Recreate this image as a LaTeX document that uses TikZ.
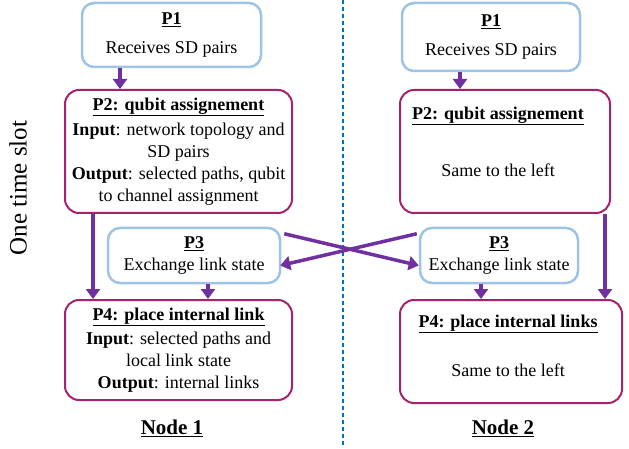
\documentclass[tikz,border=0pt]{standalone}
\usepackage{fontspec}
\setmainfont{Liberation Serif}
\usetikzlibrary{arrows.meta,calc}
\definecolor{boxblue}{HTML}{9DC3E6}
\definecolor{boxmag}{HTML}{A5226F}
\definecolor{arrpurple}{HTML}{7030A0}
\definecolor{dashblue}{HTML}{0070C0}
\begin{document}
\begin{tikzpicture}[x=1pt,y=-1pt,
  every node/.style={font=\fontsize{18}{22}\selectfont, inner sep=2pt},
  bluebox/.style={draw=boxblue, line width=2.5pt, rounded corners=12pt, align=center},
  magbox/.style={draw=boxmag, line width=2pt, rounded corners=14pt, align=center},
  arr/.style={draw=arrpurple, line width=3.5pt, -{Triangle[width=14pt,length=10pt]}},
  ttl/.style={font=\fontsize{18}{22}\selectfont\bfseries},
]
\useasboundingbox (0,0) rectangle (629,449);
% dashed separator
\coordinate (dtop) at (343,0);
\coordinate (dbot) at (343,445);
\draw[dashblue, line width=1.5pt, dash pattern=on 4pt off 3pt] (dtop) -- (dbot);
% side label
\node[rotate=90, font=\fontsize{25}{28}\selectfont] (slot) at (18,188) {One time slot};

% left column
\node[bluebox, minimum width=179pt, minimum height=64pt] (p1l) at (171.5,35)
  {\underline{\textbf{P1}}\\[7pt] Receives SD pairs};
\node[magbox, minimum width=227pt, minimum height=123pt] (p2l) at (178.5,151.5)
  {\underline{\textbf{P2: qubit assignement}}\\[3pt]
   \textbf{Input}: network topology and\\ SD pairs\\
   \textbf{Output}: selected paths, qubit\\ to channel assignment};
\node[bluebox, minimum width=172pt, minimum height=55pt] (p3l) at (194,255.5)
  {\underline{\textbf{P3}}\\ Exchange link state};
\node[magbox, minimum width=227pt, minimum height=100pt] (p4l) at (178.5,350)
  {\underline{\textbf{P4: place internal link}}\\[2pt]
   \textbf{Input}: selected paths and\\ local link state\\
   \textbf{Output}: internal links};
\node[font=\fontsize{21}{24}\selectfont\bfseries] (n1) at (172,428) {\underline{Node 1}};

% right column
\node[bluebox, minimum width=178pt, minimum height=68pt] (p1r) at (491,37)
  {\underline{\textbf{P1}}\\[7pt] Receives SD pairs};
\node[magbox, minimum width=210pt, minimum height=123pt] (p2r) at (505,151.5) {};
\node[ttl] (p2rt) at (498,116) {\underline{P2: qubit assignement}};
\node (p2rs) at (498,170) {Same to the left};
\node[bluebox, minimum width=158pt, minimum height=55pt] (p3r) at (499,255.5)
  {\underline{\textbf{P3}}\\ Exchange link state};
\node[magbox, minimum width=222pt, minimum height=103pt] (p4r) at (511,351.5) {};
\node[ttl] (p4rt) at (508,324) {\underline{P4: place internal links}};
\node (p4rs) at (508,370) {Same to the left};
\node[font=\fontsize{21}{24}\selectfont\bfseries] (n2) at (503,428) {\underline{Node 2}};

% connectors
\draw[arr] (p1l.south -| 120,0) -- (p2l.north -| 120,0);
\draw[arr] (p1r.south -| 460,0) -- (p2r.north -| 460,0);
\draw[arr] (p2l.south -| 93,0) -- (p4l.north -| 93,0);
\draw[arr] (p2r.south -| 605,0) -- (p4r.north -| 605,0);
\draw[arr] (p3l.south -| 208,0) -- (p4l.north -| 208,0);
\draw[arr] (p3r.south -| 481,0) -- (p4r.north -| 481,0);
\draw[arr] ([shift={(3pt,-7pt)}]p3l.north east) -- ([yshift=-10pt]p3r.west);
\draw[arr] ([shift={(-2pt,-7pt)}]p3r.north west) -- ([shift={(-1pt,-10pt)}]p3l.east);
\end{tikzpicture}
\end{document}
